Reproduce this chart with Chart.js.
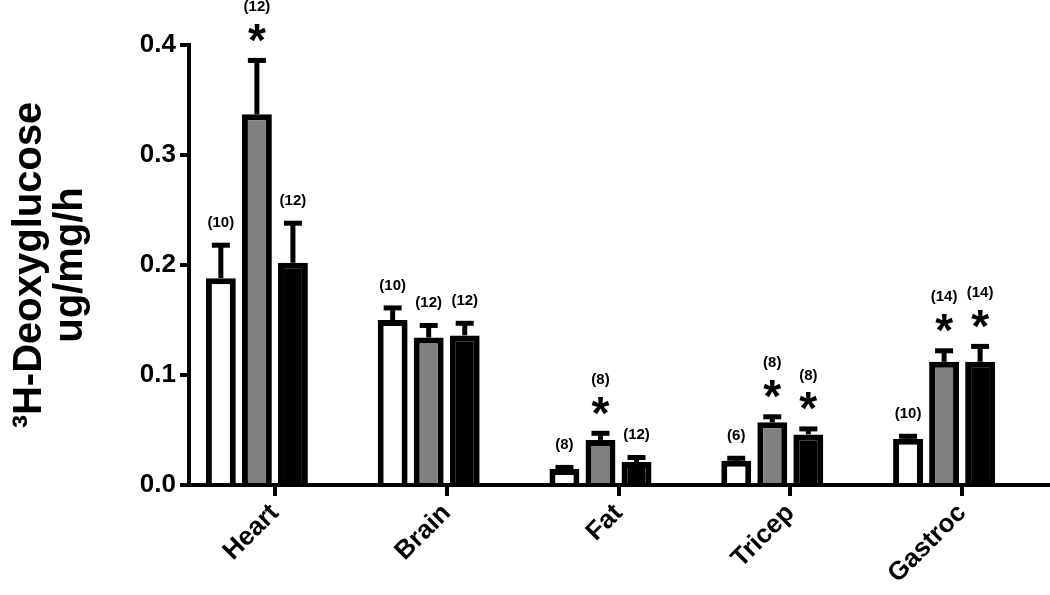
<!DOCTYPE html>
<html><head><meta charset="utf-8">
<script src="https://cdn.jsdelivr.net/npm/chart.js@4.4.1/dist/chart.umd.min.js"></script>
<style>html,body{margin:0;padding:0;background:#fff;}#wrap{width:1050px;height:595px;}</style>
</head><body><div id="wrap"><canvas id="c" width="1050" height="595"></canvas></div>
<script>
const categories = ['Heart', 'Brain', 'Fat', 'Tricep', 'Gastroc'];
const whiteVals = [0.188, 0.150, 0.0145, 0.022, 0.042];
const greyVals  = [0.337, 0.134, 0.041, 0.057, 0.112];
const blackVals = [0.202, 0.136, 0.021, 0.046, 0.112];
const whiteErr = [0.030, 0.011, 0.0015, 0.0023, 0.0023];
const greyErr  = [0.049, 0.011, 0.006, 0.005, 0.010];
const blackErr = [0.036, 0.011, 0.004, 0.005, 0.014];
const whiteN = [10, 10, 8, 6, 10];
const greyN  = [12, 12, 8, 8, 14];
const blackN = [12, 12, 12, 8, 14];
const whiteSig = [false, false, false, false, false];
const greySig  = [true, false, true, true, true];
const blackSig = [false, false, false, true, true];
const yTickValues = [0, 0.1, 0.2, 0.3, 0.4];
const yTitle = ['\u00B3H-Deoxyglucose', 'ug/mg/h'];

const FONT = "'Liberation Sans', Arial, Helvetica, sans-serif";
Chart.defaults.font.family = FONT;
Chart.defaults.color = '#000';

const errSets = [whiteErr, greyErr, blackErr];
const nSets = [whiteN, greyN, blackN];
const sigSets = [whiteSig, greySig, blackSig];
const valSets = [whiteVals, greyVals, blackVals];

const annotPlugin = {
  id: 'annot',
  afterDatasetsDraw(chart) {
    const ctx = chart.ctx;
    const y = chart.scales.y;
    ctx.save();
    for (let d = 0; d < 3; d++) {
      const meta = chart.getDatasetMeta(d);
      meta.data.forEach((bar, i) => {
        const v = valSets[d][i];
        const top = y.getPixelForValue(v + errSets[d][i]);
        const base = y.getPixelForValue(v);
        const x = bar.x;
        ctx.strokeStyle = '#000';
        ctx.lineWidth = 5;
        ctx.lineCap = 'butt';
        ctx.beginPath();
        ctx.moveTo(x, base);
        ctx.lineTo(x, top);
        ctx.stroke();
        ctx.beginPath();
        ctx.moveTo(x - 9, top);
        ctx.lineTo(x + 9, top);
        ctx.stroke();
        ctx.fillStyle = '#000';
        ctx.textAlign = 'center';
        const capTop = top - 2.5;
        if (sigSets[d][i]) {
          ctx.font = 'bold 46px ' + FONT;
          ctx.textBaseline = 'alphabetic';
          ctx.fillText('*', x, capTop - 2);
          ctx.font = 'bold 15px ' + FONT;
          ctx.textBaseline = 'middle';
          ctx.fillText('(' + nSets[d][i] + ')', x, capTop - 51);
        } else {
          ctx.font = 'bold 15px ' + FONT;
          ctx.textBaseline = 'middle';
          ctx.fillText('(' + nSets[d][i] + ')', x, capTop - 20);
        }
      });
    }
    ctx.restore();
  }
};

const common = {borderColor: '#000', borderWidth: 6, borderSkipped: 'start',
  categoryPercentage: 0.839, barPercentage: 0.83};

new Chart(document.getElementById('c'), {
  type: 'bar',
  data: {
    labels: categories,
    datasets: [
      Object.assign({label: 'white', data: whiteVals, backgroundColor: '#ffffff'}, common),
      Object.assign({label: 'grey', data: greyVals, backgroundColor: '#808080'}, common),
      Object.assign({label: 'black', data: blackVals, backgroundColor: '#000000'}, common),
      Object.assign({label: '', data: categories.map(() => null), backgroundColor: 'rgba(0,0,0,0)'}, common)
    ]
  },
  options: {
    responsive: false,
    animation: false,
    devicePixelRatio: 1,
    layout: {padding: {left: 0, right: 2, top: 45, bottom: 0}},
    plugins: {legend: {display: false}, tooltip: {enabled: false}},
    scales: {
      x: {
        z: 1,
        grid: {display: true, drawOnChartArea: false, drawTicks: true, tickLength: 11, tickWidth: 4, tickColor: '#000', offset: false, lineWidth: 4, color: '#000'},
        border: {display: true, width: 4, color: '#000'},
        ticks: {minRotation: 45, maxRotation: 45, padding: 2, color: '#000', font: {size: 26, weight: 'bold'}},
        afterFit(scale) { scale.height = 110; }
      },
      y: {
        z: 1,
        min: 0, max: 0.4,
        afterBuildTicks(scale) { scale.ticks = yTickValues.map(v => ({value: v})); },
        grid: {display: true, drawOnChartArea: false, drawTicks: true, tickLength: 9, tickWidth: 4, tickColor: '#000', lineWidth: 4, color: '#000'},
        border: {display: true, width: 4, color: '#000'},
        ticks: {padding: 4, color: '#000', font: {size: 26, weight: 'bold'}, callback: v => Number(v).toFixed(1)},
        title: {display: true, text: yTitle, color: '#000', font: {size: 40, weight: 'bold', lineHeight: 1.025}, padding: {top: 9, bottom: 0}},
        afterFit(scale) { scale.width = 189; }
      }
    }
  },
  plugins: [annotPlugin]
});
</script></body></html>
